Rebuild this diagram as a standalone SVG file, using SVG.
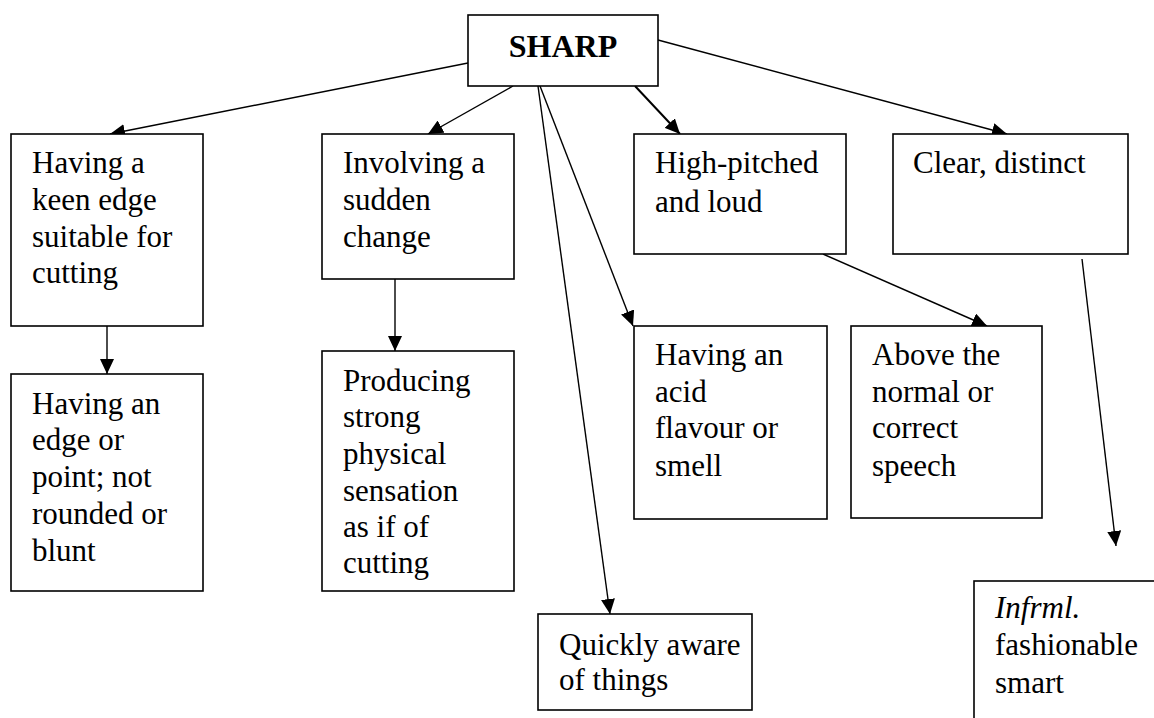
<svg xmlns="http://www.w3.org/2000/svg" width="1154" height="718" viewBox="0 0 1154 718">
<style>
.box{fill:#fff;stroke:#000;stroke-width:1.6}
.t{font-family:"Liberation Serif","Times New Roman",serif;font-size:31px;fill:#000}
.title{font-family:"Liberation Serif","Times New Roman",serif;font-size:32px;font-weight:bold;fill:#000}
.c{stroke:#000;stroke-width:1.4;fill:none;marker-end:url(#ah)}
</style>
<defs>
<marker id="ah" markerUnits="userSpaceOnUse" markerWidth="16" markerHeight="14" refX="15" refY="7" orient="auto">
<path d="M0,0 L15,7 L0,14 z" fill="#000"/>
</marker>
</defs>
<rect width="1154" height="718" fill="#fff"/>
<g id="connectors">
<line class="c" x1="468" y1="63" x2="110" y2="134"/>
<line class="c" x1="513" y1="86" x2="428" y2="134"/>
<line class="c" x1="538" y1="86" x2="610" y2="614"/>
<line class="c" x1="540" y1="86" x2="633" y2="326"/>
<line class="c" x1="635" y1="86" x2="680" y2="134" style="stroke-width:2"/>
<line class="c" x1="658" y1="40" x2="1007" y2="134"/>
<line class="c" x1="107" y1="326" x2="107" y2="374"/>
<line class="c" x1="395" y1="279" x2="395" y2="351"/>
<line class="c" x1="823" y1="254" x2="987" y2="326"/>
<line class="c" x1="1082" y1="259" x2="1116" y2="546"/>
</g>
<g id="sharp">
<rect class="box" x="468" y="15" width="190" height="71"/>
<text class="title" x="563" y="57" text-anchor="middle">SHARP</text>
</g>
<g id="keen-edge">
<rect class="box" x="11" y="134" width="192" height="192"/>
<text class="t"><tspan x="32" y="173">Having a</tspan><tspan x="32" y="210">keen edge</tspan><tspan x="32" y="247">suitable for</tspan><tspan x="32" y="283">cutting</tspan></text>
</g>
<g id="edge-point">
<rect class="box" x="11" y="374" width="192" height="217"/>
<text class="t"><tspan x="32" y="414">Having an</tspan><tspan x="32" y="450">edge or</tspan><tspan x="32" y="487">point; not</tspan><tspan x="32" y="524">rounded or</tspan><tspan x="32" y="561">blunt</tspan></text>
</g>
<g id="sudden-change">
<rect class="box" x="322" y="134" width="192" height="145"/>
<text class="t"><tspan x="343" y="173">Involving a</tspan><tspan x="343" y="210">sudden</tspan><tspan x="343" y="247">change</tspan></text>
</g>
<g id="physical-sensation">
<rect class="box" x="322" y="351" width="192" height="240"/>
<text class="t"><tspan x="343" y="391">Producing</tspan><tspan x="343" y="427">strong</tspan><tspan x="343" y="464">physical</tspan><tspan x="343" y="501">sensation</tspan><tspan x="343" y="537">as if of</tspan><tspan x="343" y="573">cutting</tspan></text>
</g>
<g id="high-pitched">
<rect class="box" x="634" y="134" width="212" height="120"/>
<text class="t"><tspan x="655" y="173">High-pitched</tspan><tspan x="655" y="212">and loud</tspan></text>
</g>
<g id="clear-distinct">
<rect class="box" x="893" y="134" width="235" height="120"/>
<text class="t"><tspan x="913" y="173">Clear, distinct</tspan></text>
</g>
<g id="acid">
<rect class="box" x="634" y="326" width="193" height="193"/>
<text class="t"><tspan x="655" y="365">Having an</tspan><tspan x="655" y="402">acid</tspan><tspan x="655" y="438">flavour or</tspan><tspan x="655" y="476">smell</tspan></text>
</g>
<g id="above-normal">
<rect class="box" x="851" y="326" width="191" height="192"/>
<text class="t"><tspan x="872" y="365">Above the</tspan><tspan x="872" y="402">normal or</tspan><tspan x="872" y="438">correct</tspan><tspan x="872" y="476">speech</tspan></text>
</g>
<g id="quickly-aware">
<rect class="box" x="538" y="614" width="214" height="96"/>
<text class="t"><tspan x="559" y="655">Quickly aware</tspan><tspan x="559" y="690">of things</tspan></text>
</g>
<g id="fashionable">
<rect class="box" x="974" y="581" width="240" height="180"/>
<text class="t"><tspan x="995" y="618" font-style="italic">Infrml.</tspan><tspan x="995" y="655">fashionable</tspan><tspan x="995" y="693">smart</tspan></text>
</g>
</svg>
